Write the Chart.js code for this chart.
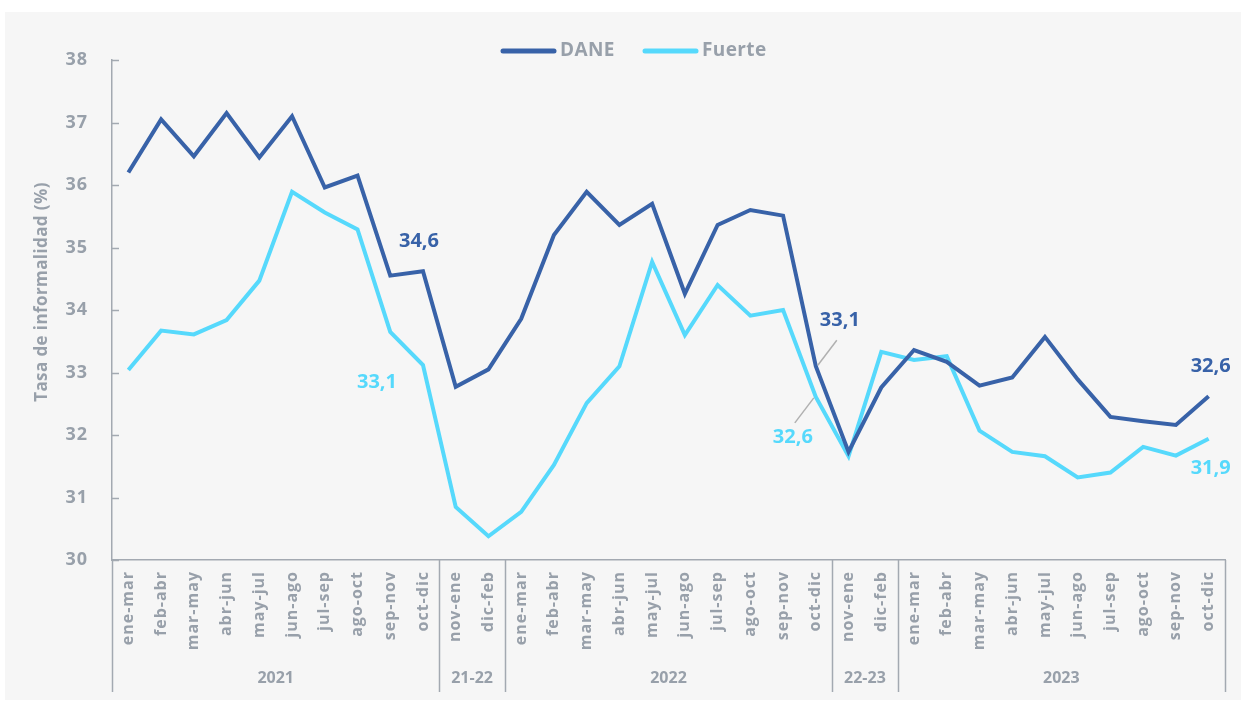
<!DOCTYPE html>
<html lang="es">
<head>
<meta charset="utf-8">
<title>Tasa de informalidad</title>
<script src="https://cdn.jsdelivr.net/npm/chart.js@4.4.1/dist/chart.umd.min.js"></script>
<style>
    html, body { margin: 0; padding: 0; background: #ffffff; }
    #wrap { width: 1248px; height: 706px; position: relative; }
</style>
</head>
<body>
<div id="wrap"><canvas id="chart" width="1248" height="706"></canvas></div>
<script>
const periodos = [
    "ene-mar", "feb-abr", "mar-may", "abr-jun", "may-jul", "jun-ago", "jul-sep", "ago-oct", "sep-nov", "oct-dic",
    "nov-ene", "dic-feb",
    "ene-mar", "feb-abr", "mar-may", "abr-jun", "may-jul", "jun-ago", "jul-sep", "ago-oct", "sep-nov", "oct-dic",
    "nov-ene", "dic-feb",
    "ene-mar", "feb-abr", "mar-may", "abr-jun", "may-jul", "jun-ago", "jul-sep", "ago-oct", "sep-nov", "oct-dic",
];
const grupos = ["2021", "21-22", "2022", "22-23", "2023"];
const tamanoGrupos = [10, 2, 10, 2, 10];

const dane = [
    36.2, 37.05, 36.46, 37.15, 36.44, 37.1, 35.96, 36.15, 34.55, 34.62,
    32.77, 33.05,
    33.86, 35.2, 35.89, 35.36, 35.7, 34.26, 35.36, 35.6, 35.51, 33.1,
    31.73, 32.76,
    33.36, 33.17, 32.79, 32.92, 33.57, 32.89, 32.29, 32.22, 32.16, 32.62,
];
const fuerte = [
    33.04, 33.67, 33.61, 33.84, 34.47, 35.89, 35.56, 35.29, 33.65, 33.12,
    30.85, 30.38,
    30.77, 31.52, 32.51, 33.1, 34.77, 33.6, 34.4, 33.91, 34.0, 32.61,
    31.66, 33.33,
    33.2, 33.26, 32.07, 31.73, 31.66, 31.32, 31.4, 31.81, 31.67, 31.94,
];

// etiquetas: [serie, índice, texto, dx, dy, línea guía]
const etiquetas = [
    [0, 9, "34,6", -4, -30, false],
    [1, 9, "33,1", -46, 17, false],
    [0, 21, "33,1", 24, -46, true],
    [1, 21, "32,6", -23, 40, true],
    [0, 33, "32,6", 2, -30, false],
    [1, 33, "31,9", 2, 30, false],
];

const colorDane = "#3862a8";
const colorFuerte = "#56d9fc";
const gris = "#98a0aa";
const fuente = "'Open Sans', Lato, sans-serif";

const decoracion = {
    id: "decoracion",
    beforeDraw(chart) {
        const ctx = chart.ctx;
        ctx.save();
        ctx.fillStyle = "#f6f6f6";
        ctx.fillRect(5, 12, 1236, 688);
        ctx.restore();
        ctx.letterSpacing = "1px";
    },
    afterDraw(chart) {
        const ctx = chart.ctx;
        const x = chart.scales.x;
        const y = chart.scales.y;
        const area = chart.chartArea;
        ctx.save();

        // leyenda
        ctx.lineCap = "round";
        ctx.lineWidth = 5;
        ctx.textAlign = "left";
        ctx.textBaseline = "middle";
        ctx.font = "bold 19px " + fuente;
        ctx.letterSpacing = "0.4px";
        chart.data.datasets.forEach((ds, i) => {
            const lx = i === 0 ? 503 : 645;
            ctx.strokeStyle = ds.borderColor;
            ctx.beginPath();
            ctx.moveTo(lx, 51);
            ctx.lineTo(lx + 51, 51);
            ctx.stroke();
            ctx.fillStyle = gris;
            ctx.fillText(ds.label, lx + 57, 51);
        });

        // título del eje y
        ctx.save();
        ctx.translate(42, 292);
        ctx.rotate(-Math.PI / 2);
        ctx.textAlign = "center";
        ctx.font = "bold 17px " + fuente;
        ctx.fillText("Tasa de informalidad (%)", 0, 0);
        ctx.restore();

        // marcas del eje y hacia dentro
        ctx.strokeStyle = "#a3a9b1";
        ctx.lineWidth = 1.5;
        ctx.lineCap = "butt";
        for (let v = 30; v <= 38; v++) {
            const py = Math.round(y.getPixelForValue(v)) + 0.5;
            ctx.beginPath();
            ctx.moveTo(area.left, py);
            ctx.lineTo(area.left + 7, py);
            ctx.stroke();
        }

        // separadores y nombres de grupo
        const paso = x.getPixelForValue(1) - x.getPixelForValue(0);
        let inicio = 0;
        ctx.font = "bold 16px " + fuente;
        ctx.fillStyle = gris;
        ctx.textAlign = "center";
        ctx.letterSpacing = "0px";
        const limites = [x.getPixelForValue(0) - paso / 2];
        grupos.forEach((g, i) => {
            const fin = inicio + tamanoGrupos[i] - 1;
            const centro = (x.getPixelForValue(inicio) + x.getPixelForValue(fin)) / 2;
            ctx.fillText(g, centro, 678);
            limites.push(x.getPixelForValue(fin) + paso / 2);
            inicio = fin + 1;
        });
        limites.forEach((lx) => {
            const px = Math.round(lx) + 0.5;
            ctx.beginPath();
            ctx.moveTo(px, area.bottom);
            ctx.lineTo(px, 692);
            ctx.stroke();
        });

        // etiquetas de valores
        ctx.font = "bold 20px " + fuente;
        etiquetas.forEach(([serie, idx, texto, dx, dy, guia]) => {
            const pt = chart.getDatasetMeta(serie).data[idx];
            if (guia) {
                ctx.strokeStyle = "#b0b0b0";
                ctx.lineWidth = 1.5;
                ctx.beginPath();
                const sx = dx > 0 ? 1 : -1;
                const sy = dy > 0 ? 1 : -1;
                ctx.moveTo(pt.x + sx * 2, pt.y + sy * 1);
                ctx.lineTo(pt.x + sx * 21, pt.y + sy * 26);
                ctx.stroke();
            }
            ctx.fillStyle = serie === 0 ? colorDane : colorFuerte;
            ctx.fillText(texto, pt.x + dx, pt.y + dy);
        });
        ctx.restore();
        ctx.letterSpacing = "0px";
    },
};

new Chart(document.getElementById("chart"), {
    type: "line",
    data: {
        labels: periodos,
        datasets: [
            {
                label: "DANE",
                data: dane,
                borderColor: colorDane,
                backgroundColor: colorDane,
                borderWidth: 4,
                pointRadius: 0,
                tension: 0,
            },
            {
                label: "Fuerte",
                data: fuerte,
                borderColor: colorFuerte,
                backgroundColor: colorFuerte,
                borderWidth: 4,
                pointRadius: 0,
                tension: 0,
            },
        ],
    },
    options: {
        responsive: false,
        animation: false,
        devicePixelRatio: 1,
        layout: {
            padding: { top: 60, right: 23, bottom: 0, left: 0 },
        },
        plugins: {
            legend: { display: false },
            tooltip: { enabled: false },
        },
        scales: {
            x: {
                offset: true,
                afterFit(scale) {
                    scale.height = 146;
                },
                grid: { display: false, drawTicks: false },
                border: { display: true, color: "#a3a9b1", width: 1.5 },
                ticks: {
                    color: gris,
                    font: { family: fuente, size: 16, weight: "bold" },
                    minRotation: 90,
                    maxRotation: 90,
                    autoSkip: false,
                    padding: 11,
                },
            },
            y: {
                min: 30,
                max: 38,
                afterFit(scale) {
                    scale.width = 112;
                },
                grid: { display: false, drawTicks: false },
                border: { display: true, color: "#a3a9b1", width: 1.5 },
                ticks: {
                    stepSize: 1,
                    color: gris,
                    font: { family: fuente, size: 18, weight: "bold" },
                    padding: 24,
                },
            },
        },
    },
    plugins: [decoracion],
});
</script>
</body>
</html>
